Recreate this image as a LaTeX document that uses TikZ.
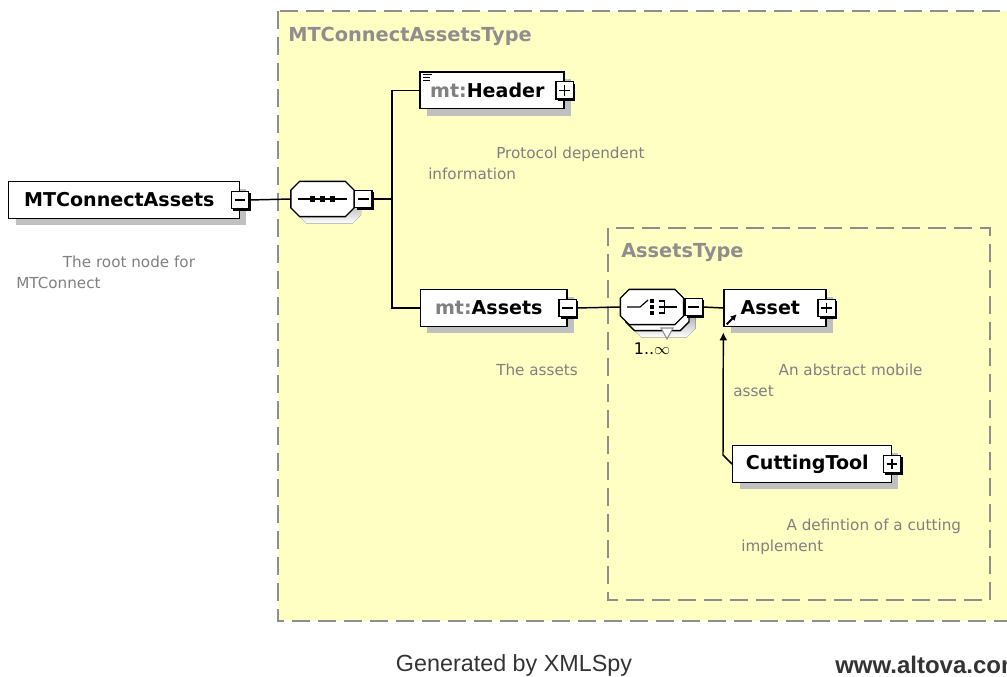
\documentclass[tikz,border=0pt]{standalone}
\usepackage{fontspec}
\setmainfont{DejaVu Sans}
\newfontfamily\footfont{Liberation Sans}
\usetikzlibrary{shadows,positioning,arrows.meta}
\definecolor{typefill}{HTML}{FFFFC4}
\definecolor{typeline}{HTML}{8E8E8E}
\definecolor{doctext}{HTML}{808080}
\definecolor{shade}{HTML}{C0C0C0}

% octagon round a compositor node, shifted by #2, #3
\newcommand{\octpath}[3]{([xshift=#2+6.5pt,yshift=#3]#1.north west) -- ([xshift=#2-6.5pt,yshift=#3]#1.north east)
  -- ([xshift=#2,yshift=#3-6.5pt]#1.north east) -- ([xshift=#2,yshift=#3+6.5pt]#1.south east)
  -- ([xshift=#2-6.5pt,yshift=#3]#1.south east) -- ([xshift=#2+6.5pt,yshift=#3]#1.south west)
  -- ([xshift=#2,yshift=#3+6.5pt]#1.south west) -- ([xshift=#2,yshift=#3-6.5pt]#1.north west) -- cycle}

\tikzset{
  element/.style={draw, fill=white, line width=1pt, inner sep=0pt,
    minimum height=27.5pt, font=\bfseries\fontsize{14.3}{16}\selectfont,
    execute at end node={\kern7pt},
    drop shadow={shadow xshift=5.25pt, shadow yshift=-5.25pt, fill=shade, opacity=1}},
  compositor/.style={inner sep=0pt, minimum width=47pt, minimum height=26pt},
  octline/.style={draw, fill=white, line width=1pt},
  minusbox/.style={draw, fill=white, line width=1pt, minimum size=13pt, inner sep=0pt,
    drop shadow={shadow xshift=1.5pt, shadow yshift=-1.5pt, fill=black, opacity=1},
    path picture={\draw[line width=0.9pt]
      ([xshift=2.5pt]path picture bounding box.west) -- ([xshift=-2.5pt]path picture bounding box.east);}},
  plusbox/.style={draw, fill=white, line width=1pt, minimum size=13pt, inner sep=0pt,
    drop shadow={shadow xshift=1.5pt, shadow yshift=-1.5pt, fill=black, opacity=1},
    path picture={\draw[line width=0.9pt]
      ([xshift=2.5pt]path picture bounding box.west) -- ([xshift=-2.5pt]path picture bounding box.east)
      ([yshift=-2.5pt]path picture bounding box.north) -- ([yshift=2.5pt]path picture bounding box.south);}},
  typebox/.style={draw=typeline, fill=typefill, line width=1.5pt, dash pattern=on 13.5pt off 6pt},
  typelabel/.style={anchor=west, inner sep=0pt, text=typeline, font=\bfseries\fontsize{14.5}{16}\selectfont},
  doc/.style={anchor=west, align=left, inner sep=0pt, text=doctext, font=\fontsize{11.4}{15.75}\selectfont},
  link/.style={line width=1.1pt},
}

\begin{document}
\begin{tikzpicture}[x=0.75pt, y=-0.75pt]
\useasboundingbox (0,0) rectangle (1007,677);

% complex types
\draw[typebox] (278,11) rectangle (1030,621);
\node[typelabel] (outertype) at (288,36) {MTConnectAssetsType};
\draw[typebox] (608,228) rectangle (990,600);
\node[typelabel] (innertype) at (621,253) {AssetsType};

% root element
\node[element, minimum width=173pt] (root) at (124,200) {MTConnectAssets};
\node[minusbox] (rootm) at (root.east) {};
\node[doc] (rootdoc) at (16,272) {\hspace*{35pt}The root node for\\MTConnect};

% sequence
\node[compositor] (seq) at (322.5,199) {};
\fill[shade] \octpath{seq}{5.25pt}{-5.25pt};
\draw[octline] \octpath{seq}{0pt}{0pt};
\node[minusbox] (seqm) at ([xshift=7pt]seq.east) {};
\draw[line width=0.9pt] ([xshift=5pt]seq.west) -- ([xshift=-5pt]seq.east);
\foreach \dx in {-10,0,10}
  \fill ([xshift=\dx*0.75pt]seq.center) +(-2.6,-2.6) rectangle +(2.6,2.6);
\draw[link] (rootm.east) -- (seq.west);
\draw[link] (seqm.east) -- (392,199) coordinate (fork);

% header and assets
\node[element, minimum width=108pt] (header) at (492,90.5) {{\color{doctext}mt:}Header};
\node[plusbox] (headerp) at (header.east) {};
\draw[line width=0.8pt] ([xshift=3pt,yshift=-2.2pt]header.north west) -- ++(9,0)
  ++(-9,3) -- ++(7,0) ++(-7,3) -- ++(7,0);
\node[doc] (headerdoc) at (428,163.5) {\hspace*{51pt}Protocol dependent\\information};

\node[element, minimum width=110pt] (assets) at (493.5,308) {{\color{doctext}mt:}Assets};
\node[minusbox] (assetsm) at (assets.east) {};
\node[doc] (assetsdoc) at (496,370) {The assets};
\draw[link] (header.west) -| (fork) |- (assets.west);

% choice, repeated
\node[compositor] (choice) at (652,307) {};
\fill[shade] \octpath{choice}{9pt}{-9.5pt};
\draw[octline] \octpath{choice}{4pt}{-4.5pt};
\draw[octline] \octpath{choice}{0pt}{0pt};
\node[minusbox] (choicem) at ([xshift=7.5pt]choice.east) {};
\draw[draw=typeline, line width=0.8pt, fill=white] (661,328) -- (673,328) -- (667,339) -- cycle;
\draw[line width=0.9pt] ([xshift=5pt]choice.west) -- ++(13,0) -- ++(8,-7);
\foreach \dy in {-6,0,6}
  \fill ([yshift=-\dy*0.75pt]choice.center) +(-1.8,-2.3) rectangle +(2.2,2.3);
\draw[line width=0.9pt] ([xshift=5pt]choice.center) ++(0,-6) -- ++(6,0) -- ++(0,12) -- ++(-6,0)
  ++(0,-6) -- ++(6,0) -- ([xshift=-5pt]choice.east);
\node[anchor=north, inner sep=0pt, font=\fontsize{12}{14}\selectfont] (choicemult) at (652,343) {1..\(\infty\)};
\draw[link] (assetsm.east) -- (choice.west);

% asset and substitution
\node[element, minimum width=76.5pt] (asset) at (775,308) {Asset};
\node[plusbox] (assetp) at (asset.east) {};
\draw[line width=1.5pt, -{Latex[length=4.5pt,width=5pt]}] ([xshift=2.5pt,yshift=2pt]asset.south west) -- ++(10,-10);
\draw[link] (choicem.east) -- (asset.west);
\node[doc] (assetdoc) at (733,380.5) {\hspace*{34pt}An abstract mobile\\asset};

\node[element, minimum width=119pt] (tool) at (812,464) {CuttingTool};
\node[plusbox] (toolp) at (tool.east) {};
\node[doc] (tooldoc) at (741,536.5) {\hspace*{34pt}A defintion of a cutting\\implement};
\draw[link, -{Latex[length=6pt,width=6pt]}, shorten >=4pt] (tool.west) -- ++(-9,-9) -- (asset.south west);

% footer
\node[font=\footfont\fontsize{17.5}{20}\selectfont, text=black!80] (generated) at (514,665) {Generated by XMLSpy};
\node[anchor=west, inner sep=0pt, font=\footfont\bfseries\fontsize{18}{20}\selectfont, text=black!80] (website) at (835,665) {www.altova.com};
\end{tikzpicture}
\end{document}
